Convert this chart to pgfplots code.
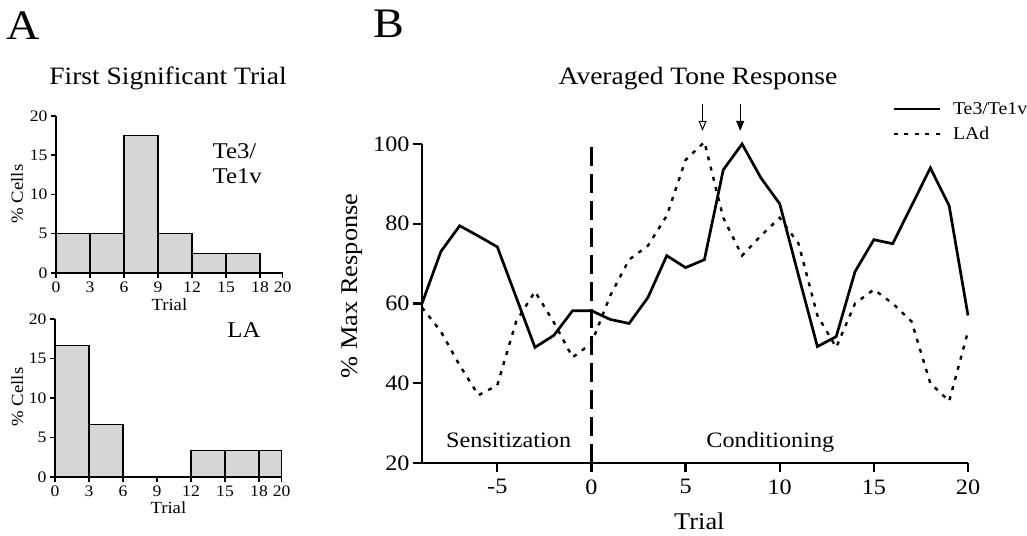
\documentclass[border=0pt]{standalone}
\usepackage{fontspec}
\setmainfont{Liberation Serif}[FakeStretch=1.1]
\usepackage{pgfplots}
\pgfplotsset{compat=1.18}
\usetikzlibrary{arrows.meta}

\newcommand{\fs}[1]{\fontsize{#1bp}{#1bp}\selectfont}

\begin{document}
\begin{tikzpicture}
\path[use as bounding box] (0bp,0bp) rectangle (1027bp,536bp);

% ---------- Panel A, top ----------
\begin{axis}[
  at={(56bp,263bp)}, anchor=south west,
  scale only axis, width=226.7bp, height=157bp,
  xmin=0, xmax=20, ymin=0, ymax=20,
  axis x line*=bottom, axis y line*=left,
  axis line style={line width=1.8bp},
  xtick={0,3,6,9,12,15,18,20}, ytick={0,5,10,15,20},
  tick align=outside, major tick length=5bp,
  every tick/.style={line width=1.5bp, black},
  tick label style={font=\fs{16}},
  /pgf/number format/assume math mode=true,
  xlabel={Trial}, ylabel={\% Cells},
  label style={font=\fs{17}},
  xlabel style={at={(axis description cs:0.5,-0.236)}, anchor=base},
  ylabel style={at={(axis description cs:-0.146,0.503)}, anchor=base},
  clip=false,
]
\addplot[ybar interval, fill=black!16, draw=black, line width=1.5bp]
  coordinates {(0,5) (3,5) (6,17.5) (9,5) (12,2.5) (15,2.5) (18,0)};
\node[anchor=base west, inner sep=0pt, font=\fs{22.5}] at (axis cs:13.8,14.6) {Te3/};
\node[anchor=base west, inner sep=0pt, font=\fs{22.5}] at (axis cs:13.8,11.45) {Te1v};
\end{axis}

% ---------- Panel A, bottom ----------
\begin{axis}[
  at={(55bp,59bp)}, anchor=south west,
  scale only axis, width=226.7bp, height=158bp,
  xmin=0, xmax=20, ymin=0, ymax=20,
  axis x line*=bottom, axis y line*=left,
  axis line style={line width=1.8bp},
  xtick={0,3,6,9,12,15,18,20}, ytick={0,5,10,15,20},
  tick align=outside, major tick length=5bp,
  every tick/.style={line width=1.5bp, black},
  tick label style={font=\fs{16}},
  /pgf/number format/assume math mode=true,
  xlabel={Trial}, ylabel={\% Cells},
  label style={font=\fs{17}},
  xlabel style={at={(axis description cs:0.5,-0.228)}, anchor=base},
  ylabel style={at={(axis description cs:-0.141,0.506)}, anchor=base},
  clip=false,
]
\addplot[ybar interval, fill=black!16, draw=black, line width=1.5bp]
  coordinates {(0,16.67) (3,6.67) (6,0) (9,0) (12,3.33) (15,3.33) (18,3.33) (20,0)};
\node[anchor=base west, inner sep=0pt, font=\fs{22.5}] at (axis cs:15.2,17.7) {LA};
\end{axis}

% ---------- Panel B ----------
\begin{axis}[
  at={(422bp,73bp)}, anchor=south west,
  scale only axis, width=546bp, height=319bp,
  xmin=-9, xmax=20, ymin=20, ymax=100,
  axis x line*=bottom, axis y line*=left,
  axis line style={line width=2.4bp},
  xtick={-5,0,5,10,15,20}, ytick={20,40,60,80,100},
  tick align=outside, major tick length=9bp,
  every tick/.style={line width=2.2bp, black},
  tick label style={font=\fs{22}},
  xticklabel style={yshift=-4bp},
  /pgf/number format/assume math mode=true,
  xlabel={Trial}, ylabel={\% Max Response},
  label style={font=\fs{24}},
  xlabel style={at={(axis description cs:0.508,-0.21)}, anchor=base},
  ylabel style={at={(axis description cs:-0.119,0.555)}, anchor=base},
  clip=false,
  legend style={at={(axis description cs:0.861,1.0705)}, anchor=west,
    draw=none, fill=none, font=\fs{18}, row sep=7bp, column sep=10bp,
    inner sep=0pt},
  legend cell align=left,
  legend image code/.code={\draw[#1] (0bp,0bp) -- (46bp,0bp);},
]
\addplot[black, line width=2.7bp, line join=miter] coordinates {
  (-9,60) (-8,73) (-7,79.5) (-6,76.9) (-5,74.2) (-4,61.6) (-3,49) (-2,52)
  (-1,58.2) (0,58.2) (1,56) (2,55) (3,61.5) (4,72) (5,69) (6,71)
  (7,93.5) (8,100) (9,91.5) (10,85) (11,67) (12,49.2) (13,51.7) (14,68)
  (15,76) (16,75) (17,84.5) (18,94) (19,84.5) (20,57)
};
\addlegendentry{Te3/Te1v}
\addplot[black, line width=2.4bp, dash pattern=on 4bp off 6.5bp] coordinates {
  (-9,59) (-8,53) (-7,44.5) (-6,37) (-5,39.5) (-4,55.5) (-3,63) (-2,55.3)
  (-1,46.5) (0,50) (1,62) (2,71) (3,74.5) (4,82) (5,96) (6,100.5)
  (7,81.5) (8,72) (9,77) (10,81.5) (11,75) (12,57) (13,49) (14,60)
  (15,63.5) (16,60) (17,55.5) (18,40) (19,35.5) (20,53)
};
\addlegendentry{LAd}
\addplot[black, line width=2.5bp, dash pattern=on 19bp off 8bp, forget plot]
  coordinates {(0,20) (0,100)};
\node[anchor=base, font=\fs{22}] at (axis cs:-4.4,23.8) {Sensitization};
\node[anchor=base, font=\fs{22}] at (axis cs:9.5,23.8) {Conditioning};
\draw[line width=1bp, -{Triangle[open, length=10bp, width=8bp, line width=1bp]}]
  (axis cs:5.9,110) -- (axis cs:5.9,103.3);
\draw[line width=1bp, -{Triangle[length=10bp, width=8bp]}]
  (axis cs:7.9,110) -- (axis cs:7.9,103.3);
\end{axis}

% ---------- Texts ----------
\node[anchor=base west, inner sep=0pt, font=\fs{42}] at (6bp,496bp) {A};
\node[anchor=base east, inner sep=0pt, font=\fs{42}] at (405bp,498bp) {B};
\node[anchor=base, font=\fs{25}] at (168bp,451bp) {First Significant Trial};
\node[anchor=base, font=\fs{25}] at (698bp,451bp) {Averaged Tone Response};
\end{tikzpicture}
\end{document}
